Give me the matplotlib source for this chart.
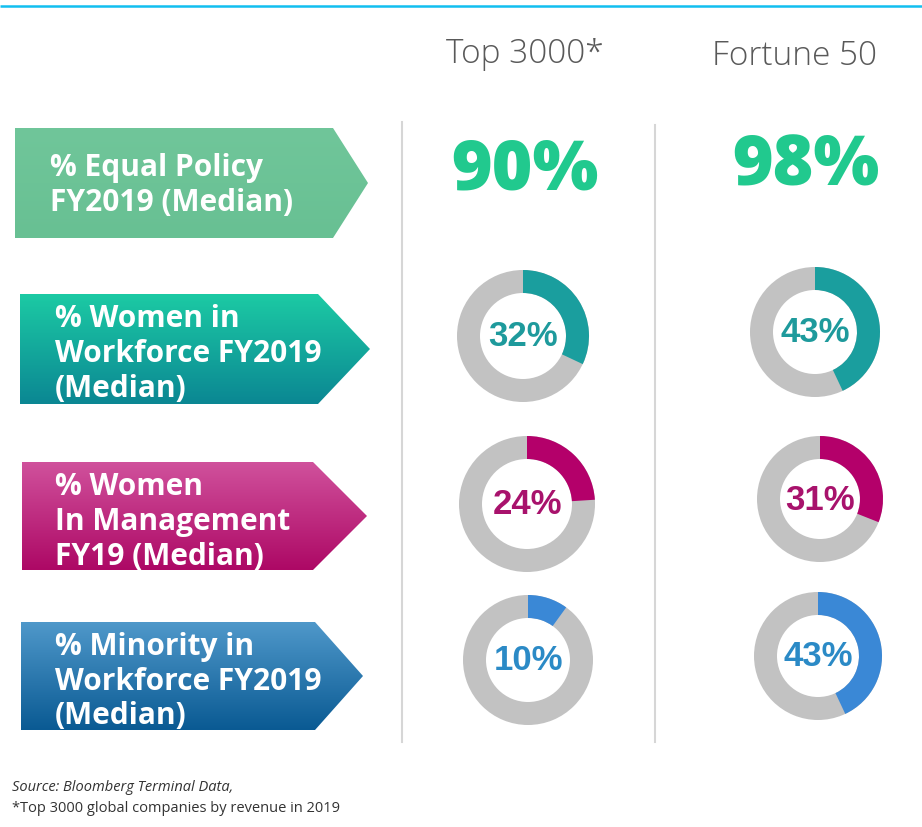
import numpy as np
import matplotlib
matplotlib.use("Agg")
import matplotlib.pyplot as plt
from matplotlib.patches import Polygon, Wedge
from matplotlib.colors import to_rgb

# data
groups = ["Top 3000*", "Fortune 50"]
metrics = [
    "% Equal Policy\nFY2019 (Median)",
    "% Women in\nWorkforce FY2019\n(Median)",
    "% Women\nIn Management\nFY19 (Median)",
    "% Minority in\nWorkforce FY2019\n(Median)",
]
top3000 = [90, 32, 24, 10]
fortune50 = [98, 43, 31, 43]
source_note = "Source: Bloomberg Terminal Data,"
star_note = "*Top 3000 global companies by revenue in 2019"

# styling / layout (pixel space)
W, H = 922, 827
arrow_top = [(15, 128, 238), (20, 294, 404), (22, 462, 570), (21, 622, 730)]
arrow_body_right = [333, 318, 313, 315]
arrow_tip = [368, 370, 367, 363]
grad = [("#70c69a", "#68c093"), ("#1ccaa4", "#0b8793"),
        ("#d0519c", "#ad0865"), ("#4f98ca", "#0a5a93")]
text_x = [50, 55, 55, 55]
baselines = [[176, 211], [327, 362, 397], [495, 530, 565], [655, 690, 724]]
arc_colors = [None, "#1a9e9e", "#b4006a", "#3a88d6"]
num_colors = [None, "#1e9a9c", "#a8126c", "#2b8ac6"]
col_x = [(525, 806), (523, 815), (527, 820), (528, 818)]
col_y = [(172, 167), (336, 332), (504, 499), (660, 656)]
radii = [None, (66, 65), (68, 63), (65, 64)]
ring = 23

fig = plt.figure(figsize=(W / 100, H / 100), dpi=100)
ax = fig.add_axes([0, 0, 1, 1])
ax.set_axis_off()

# top rule
ax.plot([0, W], [6, 6], color="#12bff0", lw=1.8, solid_capstyle="butt")

# column headers
ax.text(525, 54, groups[0], ha="center", va="center", fontsize=24,
        family="Open Sans", fontweight="light", color="#595959")
ax.text(794, 56, groups[1], ha="center", va="center", fontsize=24,
        family="Open Sans", fontweight="light", color="#595959")

# dividers
ax.plot([402, 402], [122, 742], color="#d6d6d6", lw=1.5)
ax.plot([655, 655], [125, 742], color="#d6d6d6", lw=1.5)

for i, label in enumerate(metrics):
    x0, y0, y1 = arrow_top[i]
    xb, xt = arrow_body_right[i], arrow_tip[i]
    ym = (y0 + y1) / 2
    pts = [(x0, y0), (xb, y0), (xt, ym), (xb, y1), (x0, y1)]
    poly = Polygon(pts, closed=True, facecolor="none", edgecolor="none")
    ax.add_patch(poly)
    c0, c1 = np.array(to_rgb(grad[i][0])), np.array(to_rgb(grad[i][1]))
    t = np.linspace(0, 1, 200)[:, None, None]
    img = c0 * (1 - t) + c1 * t
    im = ax.imshow(img, extent=(x0, xt, y1, y0), origin="upper",
                   aspect="auto", zorder=1)
    im.set_clip_path(poly)

    for line, yb in zip(label.split("\n"), baselines[i]):
        ax.text(text_x[i], yb, line, ha="left", va="baseline", fontsize=21.5,
                family="Open Sans", fontweight="bold", color="white", zorder=3)

    vals = (top3000[i], fortune50[i])
    for j in range(2):
        cx, cy = col_x[i][j], col_y[i][j]
        v = vals[j]
        if i == 0:
            ax.text(cx, cy, f"{v}%", ha="center", va="center", fontsize=50,
                    family="Open Sans", fontweight="heavy", color="#21c98e")
            continue
        r = radii[i][j]
        ax.add_patch(Wedge((cx, cy), r, 0, 360, width=ring,
                           facecolor="#c2c2c2", edgecolor="none", zorder=2))
        # y axis is inverted: screen top is -90, clockwise grows the angle
        ax.add_patch(Wedge((cx, cy), r, -90, -90 + 3.6 * v, width=ring,
                           facecolor=arc_colors[i], edgecolor="none", zorder=3))
        ax.text(cx, cy + 1, f"{v}%", ha="center", va="center", fontsize=25,
                family="Liberation Sans", fontweight="bold",
                color=num_colors[i], zorder=4)

# notes
ax.text(12, 791, source_note, ha="left", va="baseline", fontsize=10.5,
        family="Open Sans", style="italic", color="#333333")
ax.text(12, 812, star_note, ha="left", va="baseline", fontsize=10.5,
        family="Open Sans", color="#333333")

ax.set_xlim(0, W)
ax.set_ylim(H, 0)
fig.savefig("out.png", dpi=100, facecolor="white")
